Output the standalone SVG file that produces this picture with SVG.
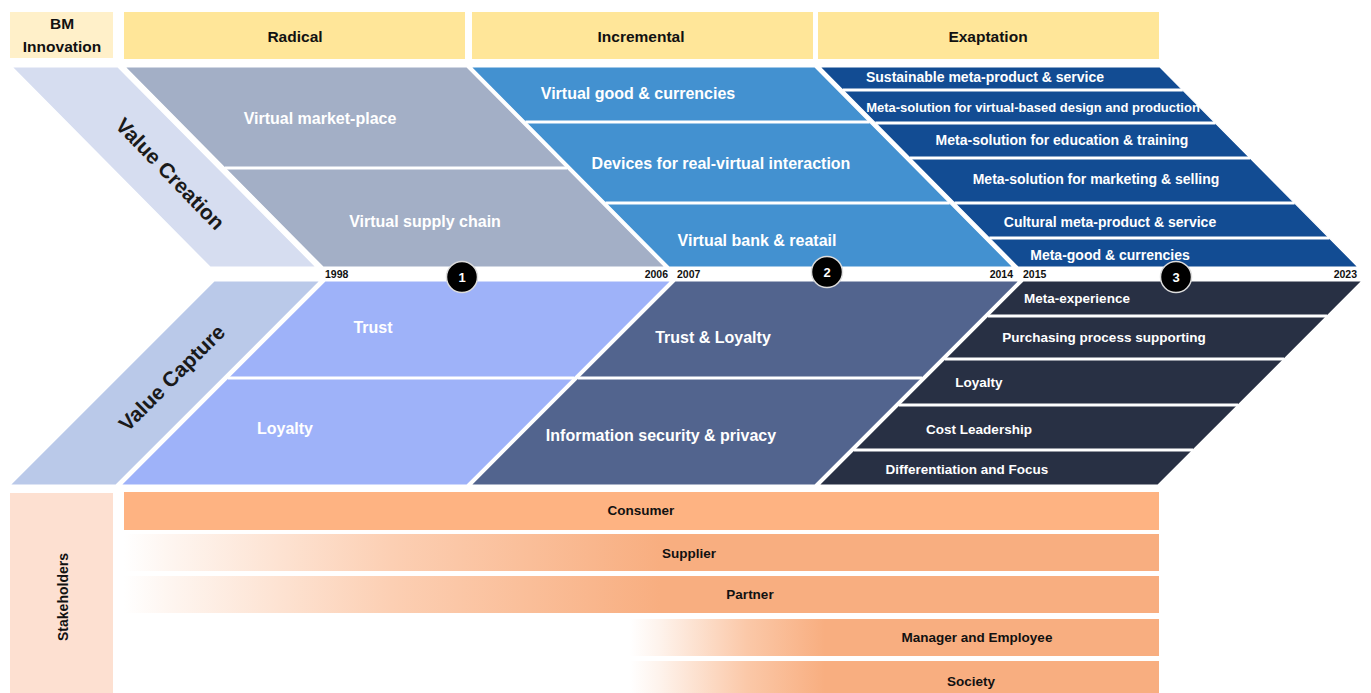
<svg xmlns="http://www.w3.org/2000/svg" width="1371" height="693" viewBox="0 0 1371 693">
<style>
text{font-family:"Liberation Sans",Arial,sans-serif;font-weight:bold;}
.hdr{font-size:15.5px;fill:#111;text-anchor:middle;}
.w16{font-size:16px;fill:#fff;text-anchor:middle;}
.w13{font-size:14px;fill:#fff;text-anchor:middle;}
.w14{font-size:13.5px;fill:#fff;text-anchor:middle;}
.side{font-size:21px;fill:#1a1a1a;text-anchor:middle;}
.yr{font-size:10.5px;fill:#111;}
.num{font-size:13px;fill:#fff;text-anchor:middle;}
.sk{font-size:13.5px;fill:#111;text-anchor:middle;}
.div{stroke:#fff;stroke-width:3;}
.shape{stroke:#fff;stroke-width:1.2;}
</style>
<defs>
<linearGradient id="g1" gradientUnits="userSpaceOnUse" x1="124" y1="0" x2="660" y2="0">
<stop offset="0" stop-color="#ffffff"/>
<stop offset="0.08" stop-color="#fef6f1"/>
<stop offset="0.5" stop-color="#fccfb3"/>
<stop offset="1" stop-color="#f8ae80"/>
</linearGradient>
<linearGradient id="g2" gradientUnits="userSpaceOnUse" x1="630" y1="0" x2="825" y2="0">
<stop offset="0" stop-color="#ffffff"/>
<stop offset="0.15" stop-color="#fef3ec"/>
<stop offset="0.6" stop-color="#fbc8a8"/>
<stop offset="1" stop-color="#f8ae80"/>
</linearGradient>
</defs>
<rect width="1371" height="693" fill="#fff"/>

<g id="header-bm"><rect x="10" y="12" width="103" height="46" fill="#fff0c9"/><text class="hdr" x="62" y="29">BM</text><text class="hdr" x="62" y="52">Innovation</text></g>
<g id="header-radical"><rect x="124" y="12" width="341" height="47" fill="#ffe699"/><text class="hdr" x="295" y="42">Radical</text></g>
<g id="header-incremental"><rect x="472" y="12" width="341" height="47" fill="#ffe699"/><text class="hdr" x="641" y="42">Incremental</text></g>
<g id="header-exaptation"><rect x="818" y="12" width="341" height="47" fill="#ffe699"/><text class="hdr" x="988" y="42">Exaptation</text></g>

<g id="value-creation">
<polygon class="shape" points="12,67 118,67 316,267 210,267" fill="#d6ddf0"/>
<text class="side" transform="translate(170,174) rotate(46)" y="7">Value Creation</text>
</g>
<g id="creation-radical">
<polygon class="shape" points="125,67 467,67 665,267 323,267" fill="#a3afc6"/>
<line class="div" x1="225" y1="168" x2="567" y2="168"/>
<text class="w16" x="320" y="124">Virtual market-place</text>
<text class="w16" x="425" y="227">Virtual supply chain</text>
</g>
<g id="creation-incremental">
<polygon class="shape" points="471,67 815,67 1013,267 669,267" fill="#4391d0"/>
<line class="div" x1="525.5" y1="122" x2="869.5" y2="122"/>
<line class="div" x1="605.6" y1="203" x2="949.6" y2="203"/>
<text class="w16" x="638" y="99">Virtual good &amp; currencies</text>
<text class="w16" x="721" y="169">Devices for real-virtual interaction</text>
<text class="w16" x="757" y="246">Virtual bank &amp; reatail</text>
</g>
<g id="creation-exaptation">
<polygon class="shape" points="820,67 1160,67 1358,267 1018,267" fill="#124c93"/>
<line class="div" x1="842.8" y1="90" x2="1182.8" y2="90"/>
<line class="div" x1="875.4" y1="123" x2="1215.4" y2="123"/>
<line class="div" x1="910" y1="158" x2="1250" y2="158"/>
<line class="div" x1="954.6" y1="203" x2="1294.6" y2="203"/>
<line class="div" x1="989.3" y1="238" x2="1329.3" y2="238"/>
<text class="w13" x="985" y="82">Sustainable meta-product &amp; service</text>
<text class="w13" x="1033" y="112" font-size="13" style="font-size:13px">Meta-solution for virtual-based design and production</text>
<text class="w13" x="1062" y="145">Meta-solution for education &amp; training</text>
<text class="w13" x="1096" y="184">Meta-solution for marketing &amp; selling</text>
<text class="w13" x="1110" y="227">Cultural meta-product &amp; service</text>
<text class="w13" x="1110" y="260">Meta-good &amp; currencies</text>
</g>

<g id="value-capture">
<polygon class="shape" points="214,281 320,281 116,485 10,485" fill="#bac9e9"/>
<text class="side" transform="translate(172,378) rotate(-45)" y="7">Value Capture</text>
</g>
<g id="capture-radical">
<polygon class="shape" points="325,281 671,281 467,485 121,485" fill="#9eb2f9"/>
<line class="div" x1="228" y1="378" x2="574" y2="378"/>
<text class="w16" x="373" y="333">Trust</text>
<text class="w16" x="285" y="434">Loyalty</text>
</g>
<g id="capture-incremental">
<polygon class="shape" points="675,281 1019,281 815,485 471,485" fill="#52648e"/>
<line class="div" x1="578" y1="378" x2="922" y2="378"/>
<text class="w16" x="713" y="343">Trust &amp; Loyalty</text>
<text class="w16" x="661" y="441">Information security &amp; privacy</text>
</g>
<g id="capture-exaptation">
<polygon class="shape" points="1023,281 1362,281 1158,485 819,485" fill="#283044"/>
<line class="div" x1="988" y1="316" x2="1327" y2="316"/>
<line class="div" x1="945" y1="359" x2="1284" y2="359"/>
<line class="div" x1="899" y1="405" x2="1238" y2="405"/>
<line class="div" x1="854" y1="450" x2="1193" y2="450"/>
<text class="w14" x="1077" y="303">Meta-experience</text>
<text class="w14" x="1104" y="342">Purchasing process supporting</text>
<text class="w14" x="979" y="387">Loyalty</text>
<text class="w14" x="979" y="434">Cost Leadership</text>
<text class="w14" x="967" y="474">Differentiation and Focus</text>
</g>

<g id="timeline">
<text class="yr" x="325" y="278">1998</text>
<text class="yr" x="668" y="278" text-anchor="end">2006</text>
<text class="yr" x="677" y="278">2007</text>
<text class="yr" x="1013" y="278" text-anchor="end">2014</text>
<text class="yr" x="1023" y="278">2015</text>
<text class="yr" x="1357" y="278" text-anchor="end">2023</text>
<g id="phase-1"><circle cx="462" cy="277" r="15.5" fill="#000" stroke="#ddd" stroke-width="1.5"/><text class="num" x="462" y="282">1</text></g>
<g id="phase-2"><circle cx="827" cy="272" r="15.5" fill="#000" stroke="#ddd" stroke-width="1.5"/><text class="num" x="827" y="277">2</text></g>
<g id="phase-3"><circle cx="1176" cy="277" r="15.5" fill="#000" stroke="#ddd" stroke-width="1.5"/><text class="num" x="1176" y="282">3</text></g>
</g>

<g id="stakeholders"><rect x="10" y="493" width="103" height="200" fill="#fde0d1"/><text class="sk" style="font-size:14px" transform="translate(68,597) rotate(-90)">Stakeholders</text></g>
<g id="consumer"><rect x="124" y="492" width="1035" height="38" fill="#feb382"/><text class="sk" x="641" y="515">Consumer</text></g>
<g id="supplier"><rect x="124" y="534" width="1035" height="37" fill="url(#g1)"/><text class="sk" x="689" y="558">Supplier</text></g>
<g id="partner"><rect x="124" y="576" width="1035" height="37" fill="url(#g1)"/><text class="sk" x="750" y="599">Partner</text></g>
<g id="manager"><rect x="630" y="619" width="529" height="37" fill="url(#g2)"/><text class="sk" x="977" y="642">Manager and Employee</text></g>
<g id="society"><rect x="630" y="661" width="529" height="32" fill="url(#g2)"/><text class="sk" x="971" y="686">Society</text></g>
<g id="connectors"></g>
</svg>
